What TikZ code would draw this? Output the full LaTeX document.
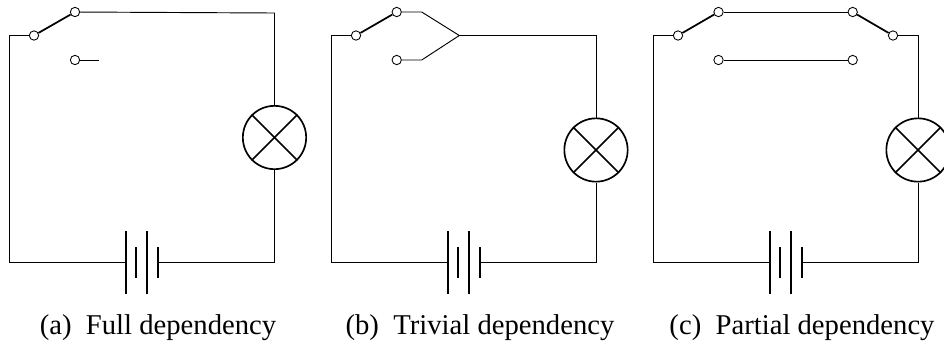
\documentclass[tikz,border=0pt]{standalone}
\usepackage{fontspec}
\setmainfont{Liberation Serif}
\newcommand{\batt}{%
  \coordinate (p1t) at (126,231); \coordinate (p1b) at (126,294);
  \coordinate (p2t) at (136,247); \coordinate (p2b) at (136,278);
  \coordinate (p3t) at (147,231); \coordinate (p3b) at (147,294);
  \coordinate (p4t) at (158,247); \coordinate (p4b) at (158,278);
  \coordinate (p1) at (126,262.5); \coordinate (p4) at (158,262.5);
  \draw[plate] (p1t) -- (p1b);
  \draw[plate] (p2t) -- (p2b);
  \draw[plate] (p3t) -- (p3b);
  \draw[plate] (p4t) -- (p4b);
}
\newcommand{\lampcross}{%
  \draw[plate] (lamp.45) -- (lamp.225);
  \draw[plate] (lamp.135) -- (lamp.315);
}
\begin{document}
\begin{tikzpicture}[x=0.75pt,y=-0.75pt,
  wire/.style={line width=0.7pt},
  plate/.style={line width=1.25pt},
  arm/.style={line width=1.3pt},
  contact/.style={circle,draw,fill=white,line width=0.65pt,inner sep=0pt,minimum size=7pt},
  lampnode/.style={circle,draw,line width=1.25pt,inner sep=0pt,minimum size=47.5pt},
  caption/.style={inner sep=0pt,font=\fontsize{21.5pt}{25pt}\selectfont}]
\useasboundingbox (0,0) rectangle (944,344);
% panel a
\begin{scope}[name prefix=a-]
  \batt
  \coordinate (tl) at (9.5,35.5); \coordinate (bl) at (9.5,262.5);
  \coordinate (tr) at (274.5,13); \coordinate (br) at (274.5,262.5);
  \coordinate (stub) at (99,60);
  \node[lampnode] (lamp) at (274.5,137.5) {};
  \lampcross
  \node[contact] (com) at (34,35.5) {};
  \node[contact] (up) at (75,12) {};
  \node[contact] (low) at (75,60) {};
  \draw[wire] (com) -- (tl) -- (bl) -- (p1);
  \draw[wire] (p4) -- (br) -- (lamp);
  \draw[wire] (lamp) -- (tr) -- (up);
  \draw[wire] (low) -- (stub);
  \draw[arm] (com) -- (up);
\end{scope}
% panel b
\begin{scope}[shift={(322,0)},name prefix=b-]
  \batt
  \coordinate (tl) at (9.5,35.5); \coordinate (bl) at (9.5,262.5);
  \coordinate (tr) at (274,35.5); \coordinate (br) at (274,262.5);
  \coordinate (s1) at (99.7,12); \coordinate (s2) at (99.7,60);
  \coordinate (j) at (137.3,35.5);
  \node[lampnode] (lamp) at (274,150) {};
  \lampcross
  \node[contact] (com) at (34,35.5) {};
  \node[contact] (up) at (74.7,12) {};
  \node[contact] (low) at (74.7,60) {};
  \draw[wire] (com) -- (tl) -- (bl) -- (p1);
  \draw[wire] (p4) -- (br) -- (lamp);
  \draw[wire] (lamp) -- (tr) -- (j);
  \draw[wire] (up) -- (s1) -- (j) -- (s2) -- (low);
  \draw[arm] (com) -- (up);
\end{scope}
% panel c
\begin{scope}[shift={(644,0)},name prefix=c-]
  \batt
  \coordinate (tl) at (9.5,35.5); \coordinate (bl) at (9.5,262.5);
  \coordinate (tr) at (274,35.5); \coordinate (br) at (274,262.5);
  \node[lampnode] (lamp) at (274,150) {};
  \lampcross
  \node[contact] (com) at (34,35.5) {};
  \node[contact] (up) at (74.5,12) {};
  \node[contact] (low) at (74.5,60) {};
  \node[contact] (up2) at (208.7,12) {};
  \node[contact] (low2) at (208.7,60) {};
  \node[contact] (com2) at (249,35.5) {};
  \draw[wire] (com) -- (tl) -- (bl) -- (p1);
  \draw[wire] (p4) -- (br) -- (lamp);
  \draw[wire] (lamp) -- (tr) -- (com2);
  \draw[wire] (up) -- (up2);
  \draw[wire] (low) -- (low2);
  \draw[arm] (com) -- (up);
  \draw[arm] (com2) -- (up2);
\end{scope}
\node[caption,anchor=base] (ca) at (158,334) {(a)\ \ Full dependency};
\node[caption,anchor=base] (cb) at (480,334) {(b)\ \ Trivial dependency};
\node[caption,anchor=base] (cc) at (802,334) {(c)\ \ Partial dependency};
\end{tikzpicture}
\end{document}
